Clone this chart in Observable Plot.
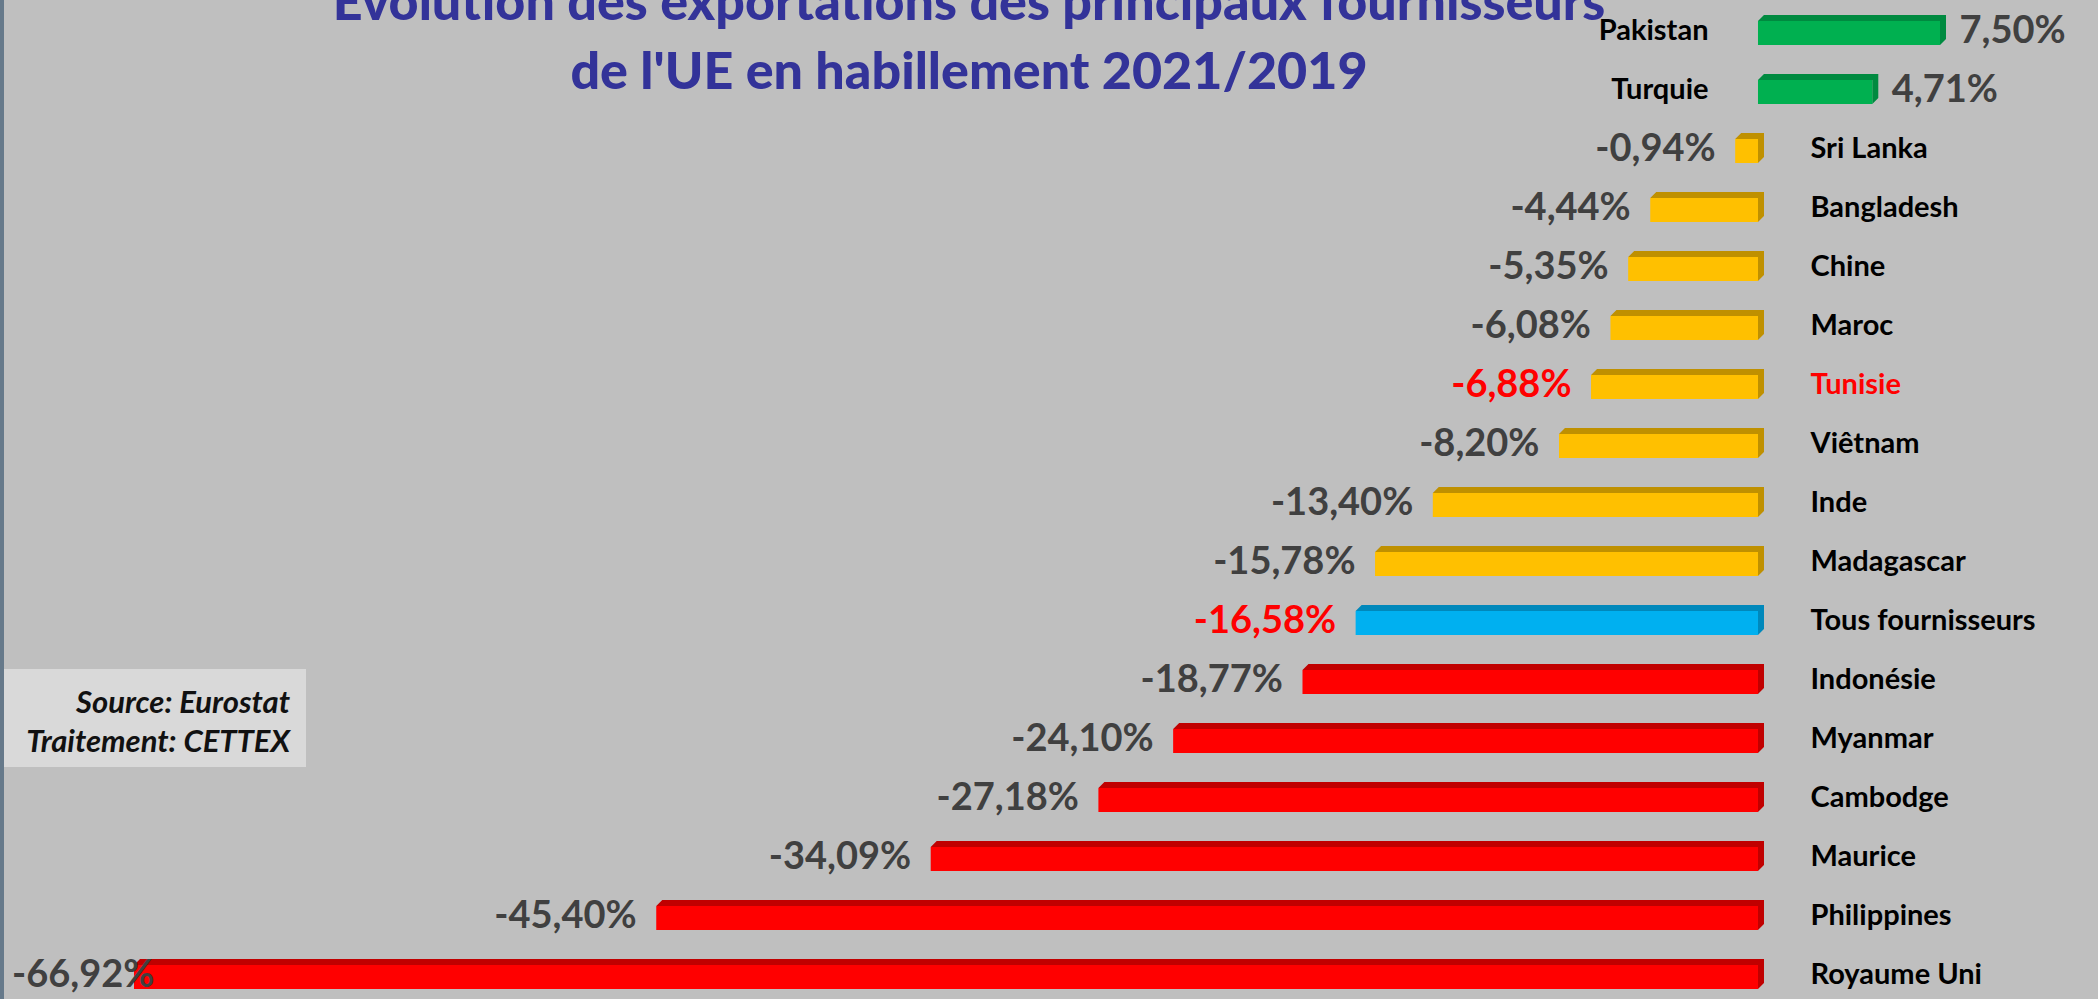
<!DOCTYPE html>
<html>
<head>
<meta charset="utf-8">
<script src="https://cdn.jsdelivr.net/npm/d3@7"></script>
<script src="https://cdn.jsdelivr.net/npm/@observablehq/plot@0.6"></script>
<style>
  html, body { margin: 0; padding: 0; background: #bfbfbf; }
  #wrap { position: relative; width: 2098px; height: 999px; overflow: hidden; background: #bfbfbf; border-left: 4px solid #66798a; box-sizing: border-box; }
  #chart { position: absolute; left: -4px; top: 0; }
  #title { position: absolute; left: 0; width: 1930px; top: -34px; text-align: center; font-family: Lato, sans-serif; font-weight: 900; font-size: 52px; line-height: 69px; color: #333399; }
  #source { position: absolute; left: 0px; top: 669px; width: 302px; height: 98px; background: #d9d9d9; box-sizing: border-box; padding: 13px 16px 0 0; text-align: right; font-family: Lato, sans-serif; font-style: italic; font-weight: bold; font-size: 31px; line-height: 39px; color: #111; }
</style>
</head>
<body>
<div id="wrap">
  <div id="chart"></div>
  <div id="title">Evolution des exportations des principaux fournisseurs<br>de l'UE en habillement 2021/2019</div>
  <div id="source">Source: Eurostat<br>Traitement: CETTEX</div>
</div>
<script>
// ---- data ----
const categories = ["Pakistan", "Turquie", "Sri Lanka", "Bangladesh", "Chine", "Maroc", "Tunisie", "Viêtnam", "Inde", "Madagascar", "Tous fournisseurs", "Indonésie", "Myanmar", "Cambodge", "Maurice", "Philippines", "Royaume Uni"];
const values = [7.50, 4.71, -0.94, -4.44, -5.35, -6.08, -6.88, -8.20, -13.40, -15.78, -16.58, -18.77, -24.10, -27.18, -34.09, -45.40, -66.92];
const groups = ["hausse", "hausse", "baisse", "baisse", "baisse", "baisse", "baisse", "baisse", "baisse", "baisse", "ensemble", "forte", "forte", "forte", "forte", "forte", "forte"];
const highlightedNames = ["Tunisie"];
const highlightedValues = ["Tunisie", "Tous fournisseurs"];

// ---- styles ----
const frontColor = {hausse: "#00b050", baisse: "#ffc000", ensemble: "#00b0f0", forte: "#ff0000"};
const topColor = {hausse: "#008a40", baisse: "#bf9000", ensemble: "#0088bb", forte: "#c00000"};
const DEPTH = 6;

const data = categories.map((name, i) => ({name, value: values[i], group: groups[i]}));
const pos = data.filter(d => d.value >= 0);
const neg = data.filter(d => d.value < 0);
const fmt = d => d.value.toFixed(2).replace(".", ",") + "%";
const nameFill = d => highlightedNames.includes(d.name) ? "#ff0000" : "#000000";
const valueFill = d => highlightedValues.includes(d.name) ? "#ff0000" : "#404040";

const nameStyle = {fontSize: 29, fontWeight: "bold", fontFamily: "Lato, sans-serif"};
const valueStyle = {fontSize: 38, fontWeight: "bold", fontFamily: "Lato, sans-serif"};

const plot = Plot.plot({
  width: 2098,
  height: 999,
  marginLeft: 134,
  marginRight: 158,
  marginTop: 11.5,
  marginBottom: 7.5,
  x: {axis: null},
  y: {axis: null, domain: categories, paddingInner: 0.5, paddingOuter: 0},
  color: {type: "identity"},
  style: {background: "transparent", overflow: "visible"},
  marks: [
    Plot.barX(data, {x: "value", y: "name", fill: d => topColor[d.group]}),
    Plot.barX(data, {x: "value", y: "name", fill: d => frontColor[d.group], insetTop: DEPTH}),
    Plot.text(pos, {x: 0, y: "name", text: "name", textAnchor: "end", dx: -50, fill: nameFill, ...nameStyle}),
    Plot.text(neg, {x: 0, y: "name", text: "name", textAnchor: "start", dx: 52, fill: nameFill, ...nameStyle}),
    Plot.text(pos, {x: "value", y: "name", text: fmt, textAnchor: "start", dx: 19, fill: valueFill, ...valueStyle}),
    Plot.text(neg, {x: "value", y: "name", text: fmt, textAnchor: "end", dx: -20, fill: valueFill, ...valueStyle})
  ]
});
document.getElementById("chart").appendChild(plot);

// turn the first bar layer into 3D top + side faces
const svg = d3.select(plot.tagName.toLowerCase() === "svg" ? plot : plot.querySelector("svg"));
const barGroups = svg.selectAll('g[aria-label="bar"]').nodes();
if (barGroups.length) {
  d3.select(barGroups[0]).selectAll("rect").each(function () {
    const r = d3.select(this);
    const x = +r.attr("x"), y = +r.attr("y"), w = +r.attr("width"), h = +r.attr("height");
    const D = DEPTH;
    const p = `M${x},${y + D}L${x + w},${y + D}L${x + w + D},${y}L${x + D},${y}Z` +
              `M${x + w},${y + D}L${x + w + D},${y}L${x + w + D},${y + h - D}L${x + w},${y + h}Z`;
    d3.select(this.parentNode).append("path").attr("d", p).attr("fill", r.attr("fill"));
    r.remove();
  });
}
// keep value labels inside the chart area (like the spreadsheet does)
svg.selectAll('g[aria-label="text"] text').each(function () {
  const b = this.getBBox();
  const ctm = this.getCTM();
  const left = b.x + (ctm ? ctm.e : 0);
  if (left < 12) {
    const t = this.getAttribute("transform") || "";
    this.setAttribute("transform", `${t} translate(${12 - left},0)`);
  }
});
</script>
</body>
</html>
